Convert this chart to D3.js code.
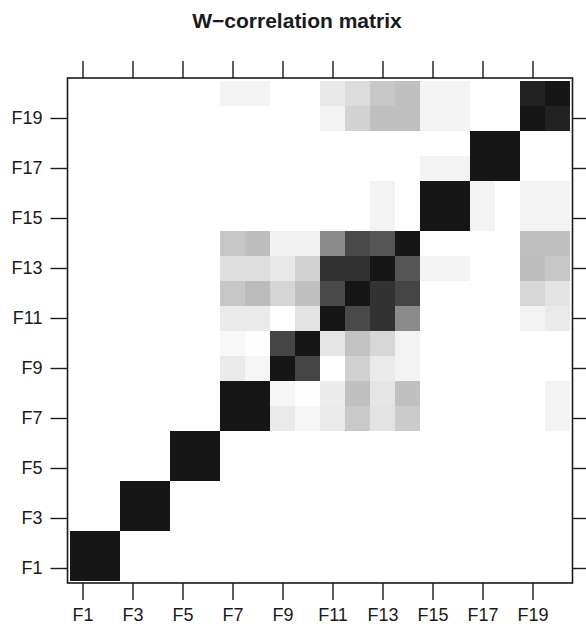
<!DOCTYPE html>
<html>
<head>
<meta charset="utf-8">
<script src="https://cdn.jsdelivr.net/npm/d3@7"></script>
<style>
  html, body { margin: 0; padding: 0; background: #fff; }
  svg { display: block; font-family: 'Liberation Sans', Arial, sans-serif; }
</style>
</head>
<body>
<svg id="wcor" width="586" height="629"></svg>
<script>
// components F1..F20, rows listed from F1 (bottom) up to F20 (top)
const labels = d3.range(1, 21).map(d => 'F' + d)
const tickVals = [1, 3, 5, 7, 9, 11, 13, 15, 17, 19]

const wcor = [
  [1, 1, 0, 0, 0, 0, 0, 0, 0, 0, 0, 0, 0, 0, 0, 0, 0, 0, 0, 0],
  [1, 1, 0, 0, 0, 0, 0, 0, 0, 0, 0, 0, 0, 0, 0, 0, 0, 0, 0, 0],
  [0, 0, 1, 1, 0, 0, 0, 0, 0, 0, 0, 0, 0, 0, 0, 0, 0, 0, 0, 0],
  [0, 0, 1, 1, 0, 0, 0, 0, 0, 0, 0, 0, 0, 0, 0, 0, 0, 0, 0, 0],
  [0, 0, 0, 0, 1, 1, 0, 0, 0, 0, 0, 0, 0, 0, 0, 0, 0, 0, 0, 0],
  [0, 0, 0, 0, 1, 1, 0, 0, 0, 0, 0, 0, 0, 0, 0, 0, 0, 0, 0, 0],
  [0, 0, 0, 0, 0, 0, 1, 1, .09, .04, .09, .23, .12, .22, 0, 0, 0, 0, 0, .05],
  [0, 0, 0, 0, 0, 0, 1, 1, .04, .01, .08, .27, .11, .27, 0, 0, 0, 0, 0, .05],
  [0, 0, 0, 0, 0, 0, .09, .04, 1, .80, 0, .20, .09, .05, 0, 0, 0, 0, 0, 0],
  [0, 0, 0, 0, 0, 0, .03, .01, .80, 1, .11, .26, .17, .05, 0, 0, 0, 0, 0, 0],
  [0, 0, 0, 0, 0, 0, .09, .09, 0, .12, 1, .78, .88, .50, 0, 0, 0, 0, .05, .09],
  [0, 0, 0, 0, 0, 0, .24, .29, .18, .27, .78, 1, .88, .80, 0, 0, 0, 0, .17, .12],
  [0, 0, 0, 0, 0, 0, .14, .14, .10, .19, .88, .88, 1, .73, .05, .05, 0, 0, .28, .24],
  [0, 0, 0, 0, 0, 0, .24, .28, .06, .06, .50, .78, .73, 1, 0, 0, 0, 0, .27, .27],
  [0, 0, 0, 0, 0, 0, 0, 0, 0, 0, 0, 0, .05, 0, 1, 1, .05, 0, .05, .05],
  [0, 0, 0, 0, 0, 0, 0, 0, 0, 0, 0, 0, .05, 0, 1, 1, .05, 0, .05, .05],
  [0, 0, 0, 0, 0, 0, 0, 0, 0, 0, 0, 0, 0, 0, .05, .05, 1, 1, 0, 0],
  [0, 0, 0, 0, 0, 0, 0, 0, 0, 0, 0, 0, 0, 0, 0, 0, 1, 1, 0, 0],
  [0, 0, 0, 0, 0, 0, 0, 0, 0, 0, .05, .19, .27, .27, .05, .05, 0, 0, 1, .95],
  [0, 0, 0, 0, 0, 0, .05, .05, 0, 0, .10, .15, .24, .27, .05, .05, 0, 0, .95, 1]
]

const svg = d3.select('#wcor')
const plotL = 67.5, plotR = 572.5, plotT = 78, plotB = 583

const xScale = d3.scaleLinear().domain([0.4, 20.6]).range([plotL, plotR])
const yScale = d3.scaleLinear().domain([0.4, 20.6]).range([plotB, plotT])
const color = d3.scaleLinear().domain([0, 1]).range(['#ffffff', '#161616'])

const cells = []
wcor.forEach((row, i) => {
  row.forEach((v, j) => {
    cells.push({ r: i + 1, c: j + 1, v: v })
  })
})

svg
  .append('g')
  .selectAll('rect')
  .data(cells)
  .join('rect')
  .attr('x', d => xScale(d.c - 0.5))
  .attr('y', d => yScale(d.r + 0.5))
  .attr('width', d => xScale(d.c + 0.5) - xScale(d.c - 0.5))
  .attr('height', d => yScale(d.r - 0.5) - yScale(d.r + 0.5))
  .attr('fill', d => color(d.v))
  .attr('shape-rendering', 'crispEdges')

const tickLen = 17
const fmt = d => 'F' + d

const xBottom = d3.axisBottom(xScale).tickValues(tickVals).tickSize(tickLen).tickPadding(8).tickFormat(fmt)
const xTop = d3.axisTop(xScale).tickValues(tickVals).tickSize(tickLen).tickFormat('')
const yLeft = d3.axisLeft(yScale).tickValues(tickVals).tickSize(tickLen).tickPadding(8).tickFormat(fmt)
const yRight = d3.axisRight(yScale).tickValues(tickVals).tickSize(tickLen).tickFormat('')

const axes = [
  svg.append('g').attr('transform', `translate(0,${plotB})`).call(xBottom),
  svg.append('g').attr('transform', `translate(0,${plotT})`).call(xTop),
  svg.append('g').attr('transform', `translate(${plotL},0)`).call(yLeft),
  svg.append('g').attr('transform', `translate(${plotR},0)`).call(yRight)
]
axes.forEach(a => {
  a.select('.domain').remove()
  a.selectAll('line').attr('stroke', '#1a1a1a').attr('stroke-width', 1.4)
  a.selectAll('text').attr('fill', '#1a1a1a').style('font-size', '18px')
})

svg
  .append('rect')
  .attr('x', plotL)
  .attr('y', plotT)
  .attr('width', plotR - plotL)
  .attr('height', plotB - plotT)
  .attr('fill', 'none')
  .attr('stroke', '#1a1a1a')
  .attr('stroke-width', 1.6)

svg
  .append('text')
  .attr('x', 297)
  .attr('y', 28)
  .attr('text-anchor', 'middle')
  .style('font-size', '21px')
  .style('font-weight', 'bold')
  .attr('fill', '#1a1a1a')
  .text('W\u2212correlation matrix')
</script>
</body>
</html>
